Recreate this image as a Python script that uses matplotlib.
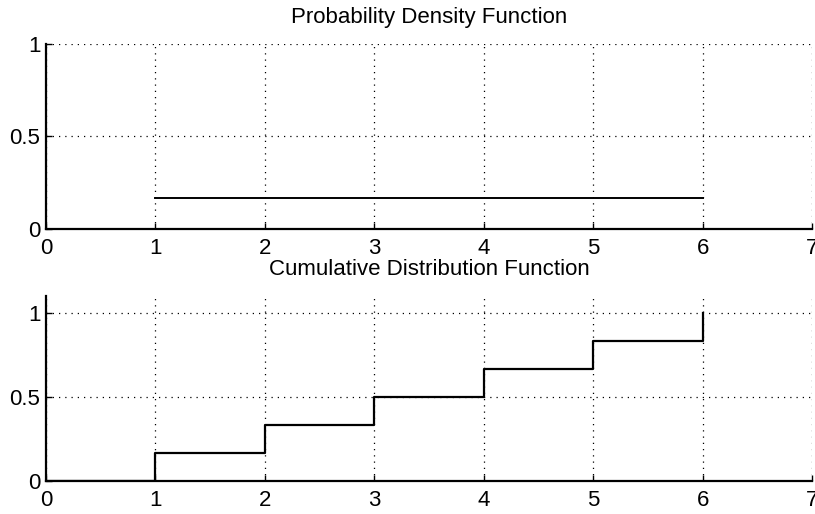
import matplotlib
matplotlib.use("Agg")
import matplotlib.pyplot as plt

# Data
pdf_x = [1, 6]
pdf_y = [1/6, 1/6]
cdf_x = [0, 1, 2, 3, 4, 5, 6]
cdf_y = [0, 1/6, 2/6, 3/6, 4/6, 5/6, 1]
x_ticks = [0, 1, 2, 3, 4, 5, 6, 7]
y_ticks = [0, 0.5, 1]
y_tick_labels = ["0", "0.5", "1"]

plt.rcParams['font.family'] = ['Liberation Sans', 'DejaVu Sans']

fig = plt.figure(figsize=(8.15, 5.14), dpi=100)
ax1 = fig.add_axes([46/815, 1-229/514, (812-46)/815, (229-44)/514])
ax2 = fig.add_axes([46/815, 1-481/514, (812-46)/815, (481-296)/514])

def style(ax, ymax, title):
    ax.set_xlim(0, 7)
    ax.set_ylim(0, ymax)
    ax.set_xticks(x_ticks)
    ax.set_xticklabels([str(t) for t in x_ticks])
    ax.set_yticks(y_ticks)
    ax.set_yticklabels(y_tick_labels)
    ax.spines['top'].set_visible(False)
    ax.spines['right'].set_visible(False)
    ax.spines['left'].set_linewidth(1.6)
    ax.spines['bottom'].set_linewidth(1.6)
    ax.tick_params(direction='in', length=4, width=1, labelsize=16, colors='black')
    ax.tick_params(axis='x', pad=6.5)
    ax.tick_params(axis='y', pad=4)
    ax.grid(True, linestyle=(0, (1, 4)), color='black', linewidth=0.9)
    ax.set_axisbelow(True)
    ax.set_title(title, fontsize=16, pad=15)

ax1.plot(pdf_x, pdf_y, color='black', linewidth=1.4)
style(ax1, 1.0, "Probability Density Function")

ax2.step(cdf_x, cdf_y, where='post', color='black', linewidth=1.6)
style(ax2, 1.1, "Cumulative Distribution Function")

fig.savefig("out.png", dpi=100)
